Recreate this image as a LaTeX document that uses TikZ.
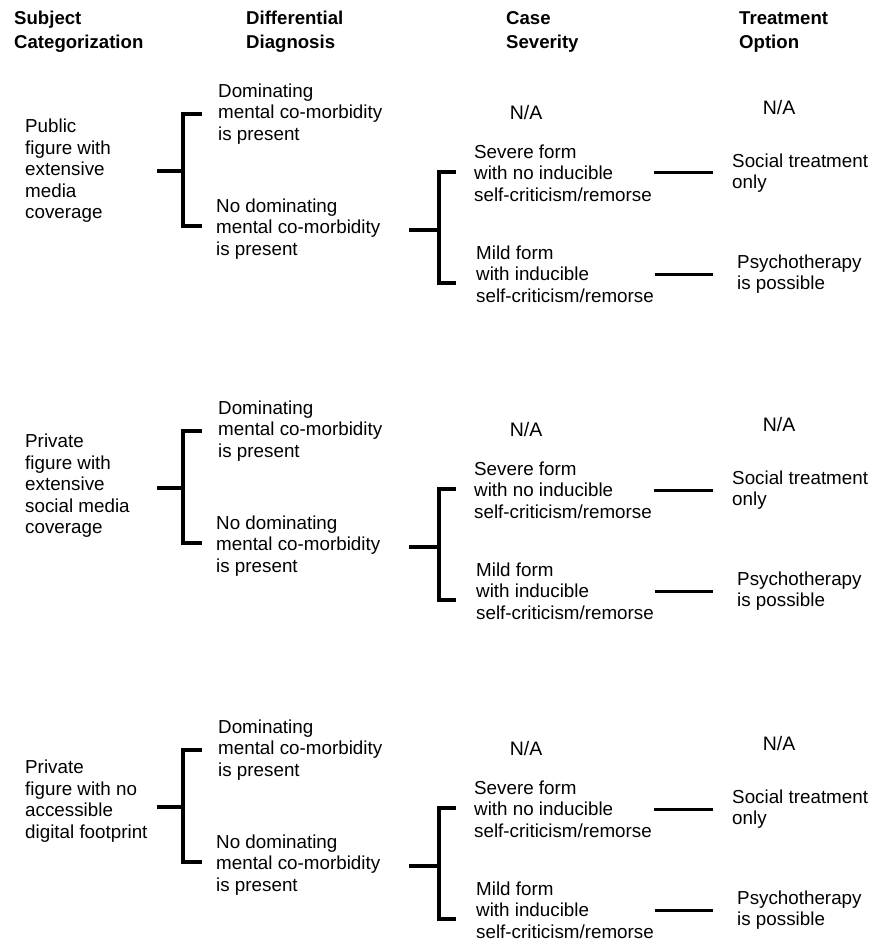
\documentclass[tikz,border=0pt]{standalone}
\usepackage{fontspec}
\setmainfont{Liberation Sans}
\tikzset{
	txt/.style={anchor=west, inner sep=0pt, align=left, font=\fontsize{18.8}{21.5}\selectfont},
	head/.style={anchor=west, inner sep=0pt, align=left, font=\bfseries\fontsize{18.6}{24}\selectfont},
	na/.style={inner sep=0pt, font=\fontsize{19.5}{21.5}\selectfont},
	brk/.style={line width=3.5pt}
}
\begin{document}
\begin{tikzpicture}[x=1pt,y=-1pt]
	\useasboundingbox (0,0) rectangle (880,941);
	
	%column headings
	\node[head] (hsubj) at (14,32) {Subject\\Categorization};
	\node[head] (hdiff) at (246,32) {Differential\\Diagnosis};
	\node[head] (hcase) at (506,32) {Case\\Severity};
	\node[head] (htreat) at (739,32) {Treatment\\Option};
	
	%one block for each subject group
	\foreach \off/\sy/\subj/\k in {0/171/{Public\\figure with\\extensive\\media\\coverage}/a,
		317/169/{Private\\figure with\\extensive\\social media\\coverage}/b,
		636/165/{Private\\figure with no\\accessible\\digital footprint}/c}{
	\begin{scope}[yshift=-\off pt]
		%subject
		\node[txt] (subj\k) at (25,\sy) {\subj};
		\coordinate (s\k) at (157,171);
		\coordinate (j\k) at (183,171);
		
		%differential diagnosis
		\node[txt] (dom\k) at (218,114) {Dominating\\mental co-morbidity\\is present};
		\node[txt] (nodom\k) at (216,229) {No dominating\\mental co-morbidity\\is present};
		\draw[brk] (s\k) -- (j\k);
		\draw[brk] ([xshift=-16pt]dom\k.west) -| (j\k) |- ([xshift=-14pt,yshift=3pt]nodom\k.west);
		
		%case severity
		\node[na] (nacase\k) at (526,113) {N/A};
		\node[txt] (sev\k) at (474,173) {Severe form\\with no inducible\\self-criticism/remorse};
		\node[txt] (mild\k) at (476,274) {Mild form\\with inducible\\self-criticism/remorse};
		\coordinate (t\k) at (409,230);
		\coordinate (u\k) at (439,230);
		\draw[brk] (t\k) -- (u\k);
		\draw[brk] ([xshift=-18pt,yshift=1pt]sev\k.west) -| (u\k) |- ([xshift=-20pt,yshift=-9pt]mild\k.west);
		
		%treatment option
		\node[na] (natreat\k) at (779,108) {N/A};
		\node[txt] (soc\k) at (732,173) {Social treatment\\only};
		\node[txt] (psy\k) at (737,274) {Psychotherapy\\is possible};
		\draw[line width=3pt, shorten <=2pt, shorten >=19pt] (sev\k.east) -- (soc\k.west);
		\draw[line width=3pt, shorten <=1pt, shorten >=24pt] (mild\k.east) -- (psy\k.west);
	\end{scope}
	}
	
\end{tikzpicture}
\end{document}
